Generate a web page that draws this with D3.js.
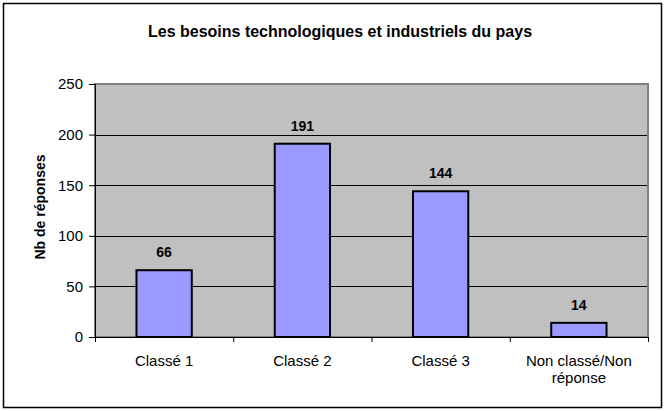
<!DOCTYPE html>
<html>
<head>
<meta charset="utf-8">
<script src="https://cdn.jsdelivr.net/npm/d3@7"></script>
<style>
	body { margin: 0; background: #fff; }
	text { font-family: "Liberation Sans", Arial, sans-serif; }
</style>
</head>
<body>
<script>
var categories = [["Classé 1"], ["Classé 2"], ["Classé 3"], ["Non classé/Non", "réponse"]];
var values = [66, 191, 144, 14];
var yTicks = [0, 50, 100, 150, 200, 250];

var width = 665,
	height = 411,
	plotLeft = 95,
	plotRight = 648,
	plotTop = 84,
	plotBottom = 337;

var svg = d3.select("body").append("svg")
	.attr("width", width)
	.attr("height", height);

// outer frame
svg.append("rect")
	.attr("x", 3.5)
	.attr("y", 3.5)
	.attr("width", 658)
	.attr("height", 404)
	.attr("fill", "#fff")
	.attr("stroke", "#000")
	.attr("stroke-width", 1.5);

svg.append("text")
	.text("Les besoins technologiques et industriels du pays")
	.attr("x", 340)
	.attr("y", 37)
	.attr("text-anchor", "middle")
	.attr("font-size", "16px")
	.attr("font-weight", "bold");

var x = d3.scaleBand()
	.domain(d3.range(categories.length))
	.range([plotLeft, plotRight])
	.paddingInner(0.6)
	.paddingOuter(0.3);

var xTickScale = d3.scaleLinear()
	.domain([0, categories.length])
	.range([plotLeft, plotRight]);

var y = d3.scaleLinear()
	.domain([0, 250])
	.range([plotBottom, plotTop]);

// plot area
svg.append("rect")
	.attr("x", plotLeft)
	.attr("y", plotTop)
	.attr("width", plotRight - plotLeft)
	.attr("height", plotBottom - plotTop)
	.attr("fill", "#c0c0c0")
	.attr("stroke", "#808080")
	.attr("stroke-width", 2);

// gridlines
svg.append("g")
	.selectAll("line")
	.data(yTicks.slice(1, -1))
	.enter()
	.append("line")
	.attr("x1", plotLeft)
	.attr("x2", plotRight - 1)
	.attr("y1", function (d) { return Math.round(y(d)) + 0.5; })
	.attr("y2", function (d) { return Math.round(y(d)) + 0.5; })
	.attr("stroke", "#000")
	.attr("stroke-width", 1);

// bars
svg.append("g")
	.selectAll("rect")
	.data(values)
	.enter()
	.append("rect")
	.attr("x", function (d, i) { return x(i); })
	.attr("y", function (d) { return y(d); })
	.attr("width", x.bandwidth())
	.attr("height", function (d) { return plotBottom - y(d); })
	.attr("fill", "#9999ff")
	.attr("stroke", "#000")
	.attr("stroke-width", 2);

// value labels
svg.append("g")
	.selectAll("text")
	.data(values)
	.enter()
	.append("text")
	.text(function (d) { return d; })
	.attr("x", function (d, i) { return x(i) + x.bandwidth() / 2; })
	.attr("y", function (d) { return y(d) - 13; })
	.attr("text-anchor", "middle")
	.attr("font-size", "14px")
	.attr("font-weight", "bold");

// y axis
var yAxis = svg.append("g")
	.attr("transform", "translate(" + plotLeft + ",0)")
	.call(d3.axisLeft(y).tickValues(yTicks).tickSize(6).tickPadding(6));
yAxis.select(".domain").attr("stroke", "#000");
yAxis.selectAll("text").attr("font-size", "15px").attr("fill", "#000");

// x axis
var xAxis = svg.append("g")
	.attr("transform", "translate(0," + plotBottom + ")")
	.call(d3.axisBottom(xTickScale).tickValues(d3.range(categories.length + 1)).tickSize(5).tickFormat(""));
xAxis.select(".domain").attr("stroke", "#000");

svg.append("g")
	.selectAll("text")
	.data(categories)
	.enter()
	.append("text")
	.attr("x", function (d, i) { return x(i) + x.bandwidth() / 2; })
	.attr("y", 366)
	.attr("text-anchor", "middle")
	.attr("font-size", "15px")
	.selectAll("tspan")
	.data(function (d) { return d; })
	.enter()
	.append("tspan")
	.attr("x", function () { return d3.select(this.parentNode).attr("x"); })
	.attr("dy", function (d, i) { return i === 0 ? 0 : 17; })
	.text(function (d) { return d; });

// y axis title
svg.append("text")
	.text("Nb de réponses")
	.attr("transform", "translate(45,207) rotate(-90)")
	.attr("text-anchor", "middle")
	.attr("font-size", "14px")
	.attr("font-weight", "bold");
</script>
</body>
</html>
